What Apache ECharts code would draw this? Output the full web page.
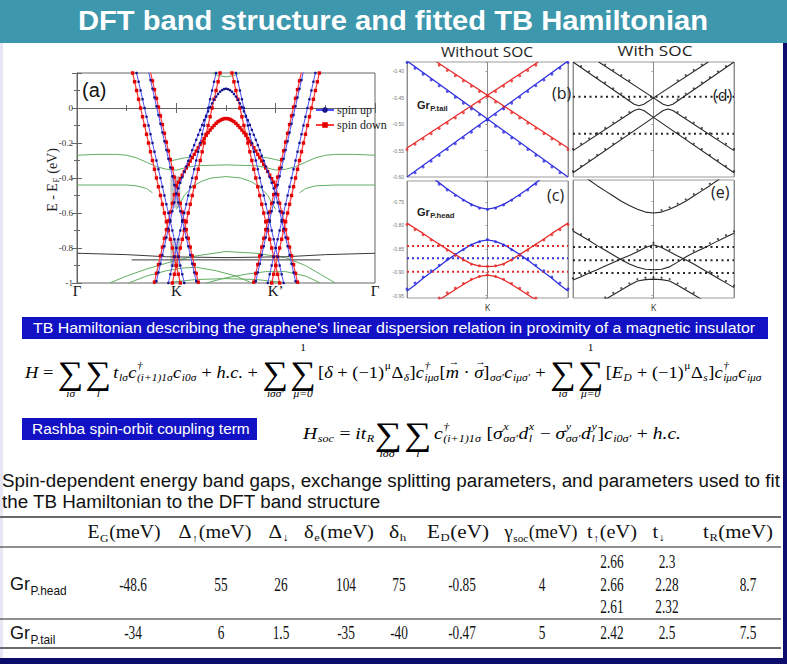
<!DOCTYPE html>
<html>
<head>
<meta charset="utf-8">
<title>DFT band structure and fitted TB Hamiltonian</title>
<script src="https://cdn.jsdelivr.net/npm/echarts@6/dist/echarts.min.js"></script>
<style>
html,body{margin:0;padding:0;background:#ffffff;}
#slide{width:787px;height:664px;}
</style>
</head>
<body>
<div id="slide"></div>
<script>
// ---------------- data ----------------
// (a) path Γ–K–K'–Γ and energy ticks
const pathTicks = [0, 1, 2, 3];
const pathLabels = ['Γ', 'K', 'K’', 'Γ'];
const energyTicksA = [-1, -0.8, -0.6, -0.4, -0.2, 0];
const energyLabelsA = ['-1', '-0.8', '-0.6', '-0.4', '-0.2', '0'];

// (a) DFT energies (eV) sampled every 0.02 along the path, per band segment
const steepH = [0.20,0.15,0.10,0.05,0.00,-0.05,-0.10,-0.15,-0.20,-0.25,-0.30,-0.35,-0.40,-0.45,-0.50,-0.55,-0.60,-0.65,-0.70,-0.75,-0.80,-0.85,-0.90,-0.95,-1.00];
const steepTUp = [0.21,0.16,0.11,0.06,0.01,-0.04,-0.09,-0.14,-0.19,-0.24,-0.29,-0.34,-0.39,-0.44,-0.49,-0.54,-0.59,-0.64,-0.69,-0.74,-0.79,-0.84,-0.89,-0.94,-0.99];
const steepTDown = [0.205,0.155,0.105,0.055,0.005,-0.045,-0.095,-0.145,-0.195,-0.245,-0.295,-0.345,-0.395,-0.445,-0.495,-0.545,-0.595,-0.645,-0.695,-0.745,-0.795,-0.845,-0.895,-0.945,-0.995];
const archUp = [-0.99,-0.94,-0.89,-0.84,-0.79,-0.74,-0.69,-0.64,-0.59,-0.54,
  -0.490,-0.459,-0.427,-0.396,-0.364,-0.333,-0.302,-0.272,-0.241,-0.212,-0.182,-0.153,-0.125,-0.097,-0.070,-0.044,-0.019,0.005,0.027,0.047,0.065,0.080,0.093,0.102,0.108,
  0.110,0.108,0.102,0.093,0.080,0.065,0.047,0.027,0.005,-0.019,-0.044,-0.070,-0.097,-0.125,-0.153,-0.182,-0.212,-0.241,-0.272,-0.302,-0.333,-0.364,-0.396,-0.427,-0.459,-0.490,
  -0.54,-0.59,-0.64,-0.69,-0.74,-0.79,-0.84,-0.89,-0.94,-0.99];
const archDown = [-0.995,-0.945,-0.895,-0.845,-0.795,-0.745,-0.695,-0.645,-0.595,-0.545,-0.495,
  -0.445,-0.424,-0.404,-0.384,-0.363,-0.343,-0.323,-0.303,-0.284,-0.265,-0.246,-0.227,-0.209,-0.191,-0.174,-0.157,-0.141,-0.126,-0.112,-0.100,-0.088,-0.078,-0.071,-0.065,-0.061,
  -0.060,-0.061,-0.065,-0.071,-0.078,-0.088,-0.100,-0.112,-0.126,-0.141,-0.157,-0.174,-0.191,-0.209,-0.227,-0.246,-0.265,-0.284,-0.303,-0.323,-0.343,-0.363,-0.384,-0.404,-0.424,-0.445,
  -0.495,-0.545,-0.595,-0.645,-0.695,-0.745,-0.795,-0.845,-0.895,-0.945,-0.995];
// segment = [first k, k step, energies]
const aSpinUp = [
  [0.60, 0.02, steepH], [1.40, -0.02, steepH], [2.40, -0.02, steepH], [1.60, 0.02, steepH],
  [0.72, 0.02, steepTUp], [2.28, -0.02, steepTUp], [0.80, 0.02, archUp]
];
const aSpinDown = [
  [0.56, 0.02, steepH], [1.44, -0.02, steepH], [2.44, -0.02, steepH], [1.56, 0.02, steepH],
  [0.74, 0.02, steepTDown], [2.26, -0.02, steepTDown], [0.78, 0.02, archDown]
];
// (a) substrate bands, [k, E-EF (eV)]
const aGreen = [
  [[0,-0.27],[0.2,-0.265],[0.4,-0.265],[0.5,-0.27],[0.6,-0.285],[0.7,-0.31],[0.8,-0.335],[0.9,-0.35],[1.0,-0.355],[1.1,-0.34],[1.2,-0.33],[1.5,-0.325],[1.8,-0.33],[1.9,-0.34],[2.0,-0.355],[2.1,-0.35],[2.2,-0.335],[2.3,-0.31],[2.4,-0.285],[2.5,-0.27],[2.6,-0.265],[2.8,-0.265],[3.0,-0.27]],
  [[0.92,-0.305],[1.0,-0.295],[1.08,-0.285],[1.16,-0.28]],
  [[2.08,-0.305],[2.0,-0.295],[1.92,-0.285],[1.84,-0.28]],
  [[0,-0.44],[0.3,-0.44],[0.5,-0.44],[0.6,-0.445],[0.7,-0.46],[0.76,-0.485]],
  [[2.24,-0.485],[2.3,-0.46],[2.4,-0.445],[2.6,-0.44],[3,-0.44]],
  [[1.0,-0.58],[1.08,-0.50],[1.16,-0.45],[1.25,-0.42],[1.35,-0.40],[1.5,-0.392],[1.65,-0.40],[1.75,-0.42],[1.84,-0.45],[1.92,-0.50],[2.0,-0.58]],
  [[1.36,0.2],[1.42,0.185],[1.5,0.178],[1.58,0.185],[1.64,0.2]],
  [[0.33,-1.0],[0.5,-0.96],[0.7,-0.92],[0.85,-0.895],[1.0,-0.87],[1.2,-0.845],[1.5,-0.82],[1.8,-0.83],[2.1,-0.855],[2.3,-0.9],[2.45,-0.95],[2.6,-1.0]],
  [[0.52,-1.0],[0.7,-0.96],[0.9,-0.93],[1.05,-0.915],[1.2,-0.91],[1.4,-0.93],[1.6,-0.96],[1.76,-1.0]],
  [[1.3,-1.0],[1.5,-0.97],[1.7,-0.95],[1.9,-0.935],[2.1,-0.935],[2.3,-0.96],[2.45,-1.0]],
  [[0.95,-0.995],[1.2,-0.98],[1.5,-0.975],[1.8,-0.98],[2.05,-0.995]]
];
const aBlack = [
  [[0,-0.83],[0.5,-0.838],[0.9,-0.85],[1.5,-0.855],[2.1,-0.85],[2.5,-0.838],[3,-0.83]],
  [[0.55,-0.868],[2.45,-0.868]]
];
// gap regions marked at K: [k0, E0, k1, E1]
const aGapBoxes = [[0.94,-0.39,1.04,-0.57],[0.94,-0.75,1.04,-0.91]];

// zoomed panels (b)-(e): k measured from K
const kGrid = [-1.0,-0.9,-0.8,-0.7,-0.6,-0.5,-0.4,-0.3,-0.2,-0.1,0,0.1,0.2,0.3,0.4,0.5,0.6,0.7,0.8,0.9,1.0];

// (b) Gr P.tail without SOC: TB lines and DFT points
const bRedLines = [[[-0.63,-0.382],[1,-0.545]], [[-1,-0.545],[0.63,-0.382]]];
const bBlueLines = [[[-1,-0.380],[1,-0.600]], [[-1,-0.600],[1,-0.380]]];
const bRedDots1 = [null,null,null,null,-0.388,-0.398,-0.408,-0.418,-0.428,-0.438,-0.447,-0.458,-0.468,-0.478,-0.488,-0.498,-0.508,-0.518,-0.528,-0.538,-0.548];
const bRedDots2 = [-0.548,-0.538,-0.528,-0.518,-0.508,-0.498,-0.488,-0.478,-0.468,-0.458,-0.447,-0.438,-0.428,-0.418,-0.408,-0.398,-0.388,null,null,null,null];
const bBlueDots1 = [-0.383,-0.394,-0.405,-0.416,-0.427,-0.438,-0.449,-0.460,-0.471,-0.482,-0.492,-0.504,-0.515,-0.526,-0.537,-0.548,-0.559,-0.570,-0.581,-0.592,null];
const bBlueDots2 = [null,-0.592,-0.581,-0.570,-0.559,-0.548,-0.537,-0.526,-0.515,-0.504,-0.492,-0.482,-0.471,-0.460,-0.449,-0.438,-0.427,-0.416,-0.405,-0.394,-0.383];

// (c) Gr P.head without SOC
const cBlueUp = [null,null,null,-0.696,-0.709,-0.722,-0.734,-0.745,-0.755,-0.762,-0.765,-0.762,-0.755,-0.745,-0.734,-0.722,-0.709,-0.696,null,null,null];
const cBlueDown = [-0.940,-0.927,-0.913,-0.900,-0.887,-0.874,-0.862,-0.851,-0.841,-0.834,-0.831,-0.834,-0.841,-0.851,-0.862,-0.874,-0.887,-0.900,-0.913,-0.927,-0.940];
const cRedUp = [-0.795,-0.806,-0.817,-0.829,-0.840,-0.851,-0.862,-0.873,-0.882,-0.887,-0.888,-0.887,-0.882,-0.873,-0.862,-0.851,-0.840,-0.829,-0.817,-0.806,-0.795];
const cRedDown = [null,null,null,-0.970,-0.959,-0.948,-0.937,-0.926,-0.916,-0.909,-0.906,-0.909,-0.916,-0.926,-0.937,-0.948,-0.959,-0.970,null,null,null];
const cBlueUpDots = [null,null,null,null,-0.712,-0.724,-0.736,-0.746,-0.756,-0.763,-0.766,-0.763,-0.756,-0.746,-0.736,-0.724,-0.712,null,null,null,null];
const cBlueDownDots = [-0.936,-0.923,-0.910,-0.897,-0.885,-0.873,-0.862,-0.852,-0.842,-0.835,-0.830,-0.835,-0.842,-0.852,-0.862,-0.873,-0.885,-0.897,-0.910,-0.923,-0.936];
const cRedUpDots = [-0.798,-0.809,-0.820,-0.831,-0.842,-0.853,-0.864,-0.874,-0.883,-0.886,-0.887,-0.886,-0.883,-0.874,-0.864,-0.853,-0.842,-0.831,-0.820,-0.809,-0.798];
const cRedDownDots = [null,null,null,null,-0.955,-0.944,-0.934,-0.924,-0.915,-0.909,-0.906,-0.909,-0.915,-0.924,-0.934,-0.944,-0.955,null,null,null,null];
const cFlatRed = [-0.844, -0.899];
const cFlatBlue = [-0.870];

// (d) Gr P.tail with SOC
const dCurves = [
  [[-0.68,-0.382],[0,-0.450],[0.12,-0.462],[0.18,-0.465],[0.24,-0.462],[1,-0.382]],
  [[-1,-0.382],[-0.24,-0.462],[-0.18,-0.465],[-0.12,-0.462],[0,-0.450],[0.68,-0.382]],
  [[-1,-0.550],[-0.24,-0.474],[-0.18,-0.471],[-0.12,-0.474],[0,-0.487],[1,-0.592]],
  [[-1,-0.592],[0,-0.487],[0.12,-0.474],[0.18,-0.471],[0.24,-0.474],[1,-0.550]]
];
const dDotsU1 = [null,null,null,null,-0.387,-0.397,-0.407,-0.417,null,null,null,null,null,-0.477,-0.487,-0.497,-0.507,-0.517,-0.527,-0.537,-0.547];
const dDotsU2 = [-0.547,-0.537,-0.527,-0.517,-0.507,-0.497,-0.487,-0.477,null,null,null,null,null,-0.417,-0.407,-0.397,-0.387,null,null,null,null];
const dDotsL1 = [null,-0.390,-0.400,-0.411,-0.421,-0.432,-0.442,-0.453,null,null,null,null,null,-0.516,-0.526,-0.537,-0.547,-0.558,-0.568,-0.579,-0.589];
const dDotsL2 = [-0.589,-0.579,-0.568,-0.558,-0.547,-0.537,-0.526,-0.516,null,null,null,null,null,-0.453,-0.442,-0.432,-0.421,-0.411,-0.400,-0.390,null];
const dFlat = [-0.448, -0.518];

// (e) Gr P.head with SOC
const eUp = [null,-0.694,-0.705,-0.717,-0.728,-0.739,-0.750,-0.759,-0.767,-0.773,-0.775,-0.773,-0.767,-0.759,-0.750,-0.739,-0.728,-0.717,-0.705,-0.694,null];
const eMid1 = [-0.917,-0.910,-0.902,-0.895,-0.887,-0.880,-0.872,-0.865,-0.857,-0.848,-0.842,-0.848,-0.857,-0.866,-0.874,-0.883,-0.893,-0.903,-0.913,-0.923,-0.933];
const eMid2 = [-0.813,-0.823,-0.833,-0.844,-0.854,-0.864,-0.874,-0.883,-0.890,-0.894,-0.895,-0.894,-0.889,-0.879,-0.868,-0.859,-0.851,-0.843,-0.834,-0.826,-0.818];
const eLow = [null,null,null,-0.968,-0.958,-0.948,-0.938,-0.928,-0.919,-0.916,-0.915,-0.916,-0.919,-0.928,-0.938,-0.948,-0.958,-0.968,null,null,null];
const eUpDots = [null,null,null,null,null,null,null,null,null,null,null,-0.769,-0.763,-0.755,-0.746,-0.735,-0.724,-0.713,-0.702,null,null];
const eMid1Dots = [-0.913,-0.906,-0.898,null,null,null,null,null,-0.853,-0.845,-0.838,-0.845,-0.853,null,null,null,null,-0.899,-0.909,-0.919,-0.929];
const eMid2Dots = [-0.810,-0.820,-0.830,null,null,null,null,null,null,null,null,null,null,null,null,-0.855,-0.847,-0.839,-0.830,-0.822,-0.814];
const eLowDots = [null,null,null,null,-0.954,-0.944,-0.934,-0.924,-0.915,-0.912,-0.911,-0.912,-0.915,-0.924,-0.934,-0.944,null,null,null,null,null];
const eFlat = [-0.847, -0.875, -0.902];

// table of fitted parameters
const colSymbols = ['E', 'Δ', 'Δ', 'δ', 'δ', 'E', 'γ', 't', 't', 't'];
const colSubs = ['G', '↑', '↓', 'e', 'h', 'D', 'soc', '↑', '↓', 'R'];
const colUnits = ['(meV)', '(meV)', '', '(meV)', '', '(eV)', '(meV)', '(eV)', '', '(meV)'];
const headValues = ['-48.6', '55', '26', '104', '75', '-0.85', '4', null, null, '8.7'];
const headTUp = ['2.66', '2.66', '2.61'];
const headTDown = ['2.3', '2.28', '2.32'];
const tailValues = ['-34', '6', '1.5', '-35', '-40', '-0.47', '5', '2.42', '2.5', '7.5'];

// ---------------- helpers ----------------
const SANS = '"Liberation Sans", Arial, sans-serif';
const SERIF = '"Liberation Serif", "Times New Roman", serif';
const CAL = '"Open Sans", "Noto Sans", sans-serif';
const mctx = document.createElement('canvas').getContext('2d');
function measure(str, font) { mctx.font = font; return mctx.measureText(str).width; }

function textEl(str, x, y, font, o) {
  o = o || {};
  const al = o.align || 'left';
  const el = { type: 'text', x: x, y: y, silent: true, z: o.z || 30,
    style: { text: str, font: font, fill: o.color || '#000', align: al, verticalAlign: 'middle',
             textAlign: al, textVerticalAlign: 'middle' } };
  if (o.width) el.scaleX = o.width / measure(str, font);
  else if (o.sx) el.scaleX = o.sx;
  return el;
}

// lays out a run of tokens with sub/superscripts, accents and big sums
function mathGroup(tokens, x, y, opt) {
  const base = opt.size, fam = opt.family, color = opt.color || '#000';
  const weight = opt.bold ? 'bold ' : '';
  const subScale = opt.subScale || 0.62;
  const children = [];
  let cx = 0;
  const font = (sz, it) => (it ? 'italic ' : '') + weight + sz.toFixed(2) + 'px ' + fam;
  const put = (s, px, py, f, al) => children.push({ type: 'text', x: px, y: py, silent: true,
    style: { text: s, font: f, fill: color, align: al || 'left', verticalAlign: 'middle', textAlign: al || 'left', textVerticalAlign: 'middle' } });
  tokens.forEach(tk => {
    if (tk.sum) {
      const sf = (base * 1.95).toFixed(1) + 'px ' + SERIF;
      const sw = measure('∑', sf);
      const lf = font(base * 0.62, true);
      const lw = Math.max(sw, tk.below ? measure(tk.below, lf) : 0, tk.above ? measure(tk.above, lf) : 0);
      const mid = cx + lw / 2;
      put('∑', mid, base * 0.05, sf, 'center');
      if (tk.below) put(tk.below, mid, base * 1.22, lf, 'center');
      if (tk.above) put(tk.above, mid, -base * 1.45, font(base * 0.62, false), 'center');
      cx += lw + base * 0.12;
      return;
    }
    const it = !!tk.it;
    const sit = tk.sit === undefined ? it : tk.sit;
    const mf = font(base, it);
    let w = 0;
    if (tk.t) { put(tk.t, cx, 0, mf); w = measure(tk.t, mf); }
    if (tk.over) put('→', cx + w / 2 + base * 0.08, -base * 0.62, (base * 0.55).toFixed(1) + 'px ' + SERIF, 'center');
    const sf = font(base * subScale, sit);
    let sw = 0;
    const sx0 = cx + w + (tk.t && (tk.sub || tk.sup) ? 0.5 : 0);
    if (tk.sup) { put(tk.sup, sx0, -base * 0.38, sf); sw = Math.max(sw, measure(tk.sup, sf)); }
    if (tk.sub) { put(tk.sub, sx0, base * (opt.subDrop || 0.32), sf); sw = Math.max(sw, measure(tk.sub, sf)); }
    cx = sx0 + sw + (sw ? 0.5 : 0);
  });
  const sx = opt.width ? opt.width / cx : (opt.sx || 1);
  const gx = opt.align === 'center' ? x - cx * sx / 2 : x;
  const g = { type: 'group', x: gx, y: y, scaleX: sx, children: children, z: opt.z || 30 };
  if (opt.rotation) { g.rotation = opt.rotation; g.x = x; g.y = y + cx / 2; }
  return g;
}

const GA = { x: 0, y: 0 }, GB = { x: 2, y: 2 }, GC = { x: 3, y: 3 }, GD = { x: 4, y: 4 }, GE = { x: 5, y: 5 };
const onGrid = vals => kGrid.map((k, i) => [k, vals[i]]).filter(p => p[1] !== null);
const onPath = seg => seg[2].map((e, i) => [Math.round((seg[0] + seg[1] * i) * 1000) / 1000, e]);
const series = [];
function addLine(g, pts, color, o) {
  o = o || {};
  series.push({ type: 'line', name: o.name, xAxisIndex: g.x, yAxisIndex: g.y, data: pts,
    showSymbol: !!o.symbol, symbol: o.symbol || 'none', symbolSize: o.symbolSize || 3,
    lineStyle: { color: color, width: o.width || 1, type: o.dash || 'solid' },
    itemStyle: { color: o.symbolColor || color }, silent: true, animation: false, z: o.z || 3, clip: true });
}
function addDots(g, pts, color, size, symbol) {
  series.push({ type: 'scatter', xAxisIndex: g.x, yAxisIndex: g.y, data: pts, symbol: symbol || 'circle',
    symbolSize: size, itemStyle: { color: color }, silent: true, animation: false, z: 4, clip: true });
}

// ---------------- series ----------------
const BLUE = '#2f2fe0', RED = '#e62a2a', GREEN = '#62ad62', DARK = '#262626';
aGreen.forEach(b => addLine(GA, b, GREEN, { width: 1 }));
aBlack.forEach(b => addLine(GA, b, '#3a3a3a', { width: 1 }));
aSpinUp.forEach(s => addLine(GA, onPath(s), '#5050ff', { name: 'spin up', symbol: 'circle', symbolSize: 2.6, symbolColor: '#16168a', width: 1, z: 5 }));
aSpinDown.forEach(s => addLine(GA, onPath(s), '#ff3c3c', { name: 'spin down', symbol: 'rect', symbolSize: 3.4, symbolColor: '#e40000', width: 1.2, z: 4 }));
series.push({ type: 'line', xAxisIndex: 0, yAxisIndex: 0, data: [], silent: true, z: 1,
  markArea: { silent: true, itemStyle: { color: 'rgba(150,150,150,0.55)' },
    data: aGapBoxes.map(b => [{ coord: [b[0], b[1]] }, { coord: [b[2], b[3]] }]) } });

bRedLines.forEach(l => addLine(GB, l, RED, { width: 1.3 }));
bBlueLines.forEach(l => addLine(GB, l, BLUE, { width: 1.3 }));
[bRedDots1, bRedDots2].forEach(d => addDots(GB, onGrid(d), RED, 3));
[bBlueDots1, bBlueDots2].forEach(d => addDots(GB, onGrid(d), BLUE, 3));

addLine(GC, onGrid(cBlueUp), BLUE, { width: 1.3 });
addLine(GC, onGrid(cBlueDown), BLUE, { width: 1.3 });
addLine(GC, onGrid(cRedUp), RED, { width: 1.3 });
addLine(GC, onGrid(cRedDown), RED, { width: 1.3 });
[cBlueUpDots, cBlueDownDots].forEach(d => addDots(GC, onGrid(d), BLUE, 3));
[cRedUpDots, cRedDownDots].forEach(d => addDots(GC, onGrid(d), RED, 3));
cFlatRed.forEach(e => addLine(GC, [[-1, e], [1, e]], RED, { width: 2, dash: [2, 3] }));
cFlatBlue.forEach(e => addLine(GC, [[-1, e], [1, e]], BLUE, { width: 2, dash: [2, 3] }));

dCurves.forEach(c => addLine(GD, c, DARK, { width: 1.1 }));
[dDotsU1, dDotsU2, dDotsL1, dDotsL2].forEach(d => addDots(GD, onGrid(d), DARK, 2.2));
dFlat.forEach(e => addLine(GD, [[-1, e], [1, e]], DARK, { width: 2, dash: [2, 3.5] }));

[eUp, eMid1, eMid2, eLow].forEach(c => addLine(GE, onGrid(c), DARK, { width: 1.1 }));
[eUpDots, eMid1Dots, eMid2Dots, eLowDots].forEach(d => addDots(GE, onGrid(d), DARK, 2.2));
eFlat.forEach(e => addLine(GE, [[-1, e], [1, e]], DARK, { width: 2, dash: [2, 3.5] }));

// ---------------- axes ----------------
const noSplit = { show: false };
const tick = (len, inside, col) => ({ show: true, inside: inside, length: len, lineStyle: { color: col || '#555', width: 1 } });
const kLabel = v => (Math.abs(v) < 1e-9 ? 'K' : '');
const zoomYLabel = v => { const r = Math.round(v * 20) / 20; return Math.abs(r - v) < 1e-6 ? r.toFixed(2) : ''; };
const xAxes = [
  { gridIndex: 0, type: 'value', min: 0, max: 3, interval: 1, axisLine: { lineStyle: { color: '#666' } },
    axisTick: tick(5, true, '#666'), minorTick: { show: true, splitNumber: 2, length: 3, lineStyle: { color: '#666' } },
    axisLabel: { formatter: v => pathLabels[pathTicks.indexOf(Math.round(v))] || '', fontFamily: SERIF, fontSize: 15, color: '#111', margin: 0 },
    splitLine: noSplit, minorSplitLine: noSplit },
  { gridIndex: 0, type: 'value', position: 'top', min: 0, max: 3, interval: 1, axisLine: { lineStyle: { color: '#666' } },
    axisTick: tick(5, true, '#666'), minorTick: { show: true, splitNumber: 2, length: 3, lineStyle: { color: '#666' } },
    axisLabel: { show: false }, splitLine: noSplit }
];
[1, 2, 3, 4].forEach(gi => xAxes.push({ gridIndex: gi, type: 'value', min: -1, max: 1, interval: 1,
  axisLine: { show: false }, axisTick: { show: false },
  axisLabel: { show: gi === 2 || gi === 4, formatter: kLabel, fontFamily: CAL, fontSize: 9, color: '#333', margin: 5 },
  splitLine: { show: true, lineStyle: { color: '#8c8c8c', width: 1 } } }));

const yAxes = [
  { gridIndex: 0, type: 'value', min: -1, max: 0.2, interval: 0.2, axisLine: { lineStyle: { color: '#666' } },
    axisTick: tick(5, true, '#666'), minorTick: { show: true, splitNumber: 2, length: 3, lineStyle: { color: '#666' } },
    axisLabel: { formatter: v => { const i = energyTicksA.findIndex(t => Math.abs(t - v) < 1e-6); return i < 0 ? '' : energyLabelsA[i]; },
      fontFamily: SERIF, fontSize: 9, color: '#333', margin: 4 },
    splitLine: noSplit },
  { gridIndex: 0, type: 'value', position: 'right', min: -1, max: 0.2, interval: 0.2, axisLine: { lineStyle: { color: '#666' } },
    axisTick: tick(5, true, '#666'), minorTick: { show: true, splitNumber: 2, length: 3, lineStyle: { color: '#666' } },
    axisLabel: { show: false }, splitLine: noSplit }
];
const yRangeTop = { min: -0.60, max: -0.382 }, yRangeBottom = { min: -0.955, max: -0.705 };
[[1, yRangeTop, true], [2, yRangeBottom, true], [3, yRangeTop, false], [4, yRangeBottom, false]].forEach(([gi, r, lab]) =>
  yAxes.push({ gridIndex: gi, type: 'value', min: r.min, max: r.max, splitNumber: 5,
    axisLine: { show: false }, axisTick: { show: true, length: 2, lineStyle: { color: '#999' } },
    axisLabel: { show: lab, formatter: zoomYLabel, fontFamily: SANS, fontSize: 5, color: '#777', margin: 3 },
    splitLine: noSplit }));

// ---------------- slide decoration and text ----------------
const gfx = [];
gfx.push({ type: 'rect', shape: { x: 0, y: 0, width: 787, height: 43 }, style: { fill: '#3d97ad' }, z: 1, silent: true });
gfx.push({ type: 'rect', shape: { x: 0, y: 43, width: 3, height: 621 }, style: { fill: '#e6e6f4' }, z: 1, silent: true });
gfx.push({ type: 'rect', shape: { x: 783, y: 43, width: 4, height: 621 }, style: { fill: '#0c0c6c' }, z: 1, silent: true });
gfx.push({ type: 'rect', shape: { x: 0, y: 658, width: 787, height: 6 }, style: { fill: '#0c0c6c' }, z: 1, silent: true });
gfx.push(textEl('DFT band structure and fitted TB Hamiltonian', 393, 21, 'bold 27px ' + SANS, { align: 'center', color: '#ffffff', width: 630 }));

// panel captions
gfx.push(textEl('(a)', 82, 90, '20px ' + SANS, { color: '#111' }));
gfx.push(mathGroup([{ t: 'E - E', sub: 'F' }, { t: ' (eV)' }], 52, 180, { size: 14, family: SERIF, color: '#222', rotation: Math.PI / 2 }));
gfx.push(textEl('Without SOC', 487, 51, '14px ' + CAL, { align: 'center', color: '#222', width: 92 }));
gfx.push(textEl('With SOC', 655, 51, '14px ' + CAL, { align: 'center', color: '#222', width: 75 }));
gfx.push(textEl('(b)', 552, 93, '16px ' + CAL, { color: '#222' }));
gfx.push(textEl('(c)', 547, 195, '16px ' + CAL, { color: '#222' }));
gfx.push(textEl('(d)', 713, 95, '16px ' + CAL, { color: '#222' }));
gfx.push(textEl('(e)', 711, 192, '16px ' + CAL, { color: '#222' }));
gfx.push(mathGroup([{ t: 'Gr', sub: 'P.tail' }], 417, 105, { size: 11, family: SANS, bold: true, color: '#222', subScale: 0.7 }));
gfx.push(mathGroup([{ t: 'Gr', sub: 'P.head' }], 417, 212, { size: 11, family: SANS, bold: true, color: '#222', subScale: 0.7 }));

// Hamiltonian banner and equation
gfx.push({ type: 'rect', shape: { x: 22, y: 317, width: 746, height: 22 }, style: { fill: '#1212c4' }, z: 2, silent: true });
gfx.push(textEl('TB Hamiltonian describing the graphene\'s linear dispersion relation in proximity of a magnetic insulator', 394, 328, '15px ' + SANS, { align: 'center', color: '#ffffff', width: 723 }));
const eqH = [
  { t: 'H', it: true }, { t: ' = ' },
  { sum: true, below: 'iσ' }, { sum: true, below: 'l' },
  { t: 't', it: true, sub: 'lσ' },
  { t: 'c', it: true, sup: '†', sub: '(i+1)1σ' },
  { t: 'c', it: true, sub: 'i0σ' },
  { t: ' + ' }, { t: 'h.c.', it: true }, { t: ' + ' },
  { sum: true, below: 'iσσ′' }, { sum: true, above: '1', below: 'μ=0' },
  { t: '[' }, { t: 'δ', it: true }, { t: ' + (−1)', sup: 'μ' }, { t: 'Δ', sub: 'δ', sit: true }, { t: ']' },
  { t: 'c', it: true, sup: '†', sub: 'iμσ' },
  { t: '[' }, { t: 'm', it: true, over: true }, { t: ' · ' }, { t: 'σ', it: true, over: true }, { t: ']', sub: 'σσ′', sit: true },
  { t: 'c', it: true, sub: 'iμσ′' },
  { t: ' + ' },
  { sum: true, below: 'iσ' }, { sum: true, above: '1', below: 'μ=0' },
  { t: '[' }, { t: 'E', it: true, sub: 'D' }, { t: ' + (−1)', sup: 'μ' }, { t: 'Δ', sub: 's', sit: true }, { t: ']' },
  { t: 'c', it: true, sup: '†', sub: 'iμσ' }, { t: 'c', it: true, sub: 'iμσ' }
];
gfx.push(mathGroup(eqH, 25, 372, { size: 17, family: SERIF, width: 737 }));

gfx.push({ type: 'rect', shape: { x: 22, y: 418, width: 235, height: 22 }, style: { fill: '#1212c4' }, z: 2, silent: true });
gfx.push(textEl('Rashba spin-orbit coupling term', 32, 429, '15px ' + SANS, { color: '#ffffff', width: 218 }));
const eqSoc = [
  { t: 'H', it: true, sub: 'soc' }, { t: ' = ' }, { t: 'it', it: true, sub: 'R' },
  { sum: true, below: 'iσσ′' }, { sum: true, below: 'l' },
  { t: 'c', it: true, sup: '†', sub: '(i+1)1σ' },
  { t: ' [' }, { t: 'σ', it: true, sup: 'x', sub: 'σσ′' }, { t: 'd', it: true, sup: 'x', sub: 'l' },
  { t: ' − ' }, { t: 'σ', it: true, sup: 'y', sub: 'σσ′' }, { t: 'd', it: true, sup: 'y', sub: 'l' }, { t: ']' },
  { t: 'c', it: true, sub: 'i0σ′' }, { t: ' + ' }, { t: 'h.c.', it: true }
];
gfx.push(mathGroup(eqSoc, 303, 433, { size: 17, family: SERIF, width: 378 }));

// caption of the table
gfx.push(textEl('Spin-dependent energy band gaps, exchange splitting parameters, and parameters used to fit', 2, 481, '18px ' + SANS, { color: '#111', width: 778 }));
const capScale = 778 / measure('Spin-dependent energy band gaps, exchange splitting parameters, and parameters used to fit', '18px ' + SANS);
gfx.push(textEl('the TB Hamiltonian to the DFT band structure', 2, 502, '18px ' + SANS, { color: '#111', sx: capScale }));

// table rules
[[517, 2], [547, 1.5], [619, 1.5], [648, 2]].forEach(([y, w]) =>
  gfx.push({ type: 'line', shape: { x1: 0, y1: y, x2: 781, y2: y }, style: { stroke: '#6a6a6a', lineWidth: w }, z: 5, silent: true }));

const colCenters = [124, 215, 279, 339, 398, 458, 541, 612, 659, 738];
const headWidths = [73, 73, 21, 70, 18, 62, 73, 50, 13, 70];
const valCenters = [133, 221, 281, 346, 399, 462, 542, 612, 667, 748];
colSymbols.forEach((s, i) => {
  const toks = [{ t: s, sub: colSubs[i] }];
  if (colUnits[i]) toks.push({ t: colUnits[i] });
  gfx.push(mathGroup(toks, colCenters[i], 532, { size: 18, family: SERIF, width: headWidths[i], align: 'center', subScale: 0.6, color: '#111' }));
});
const VAL_FONT = '18px ' + SERIF, VSX = 0.74;
headValues.forEach((v, i) => { if (v !== null) gfx.push(textEl(v, valCenters[i], 585, VAL_FONT, { align: 'center', sx: VSX, color: '#111' })); });
[562, 585, 607].forEach((y, r) => {
  gfx.push(textEl(headTUp[r], valCenters[7], y, VAL_FONT, { align: 'center', sx: VSX, color: '#111' }));
  gfx.push(textEl(headTDown[r], valCenters[8], y, VAL_FONT, { align: 'center', sx: VSX, color: '#111' }));
});
tailValues.forEach((v, i) => gfx.push(textEl(v, valCenters[i], 633, VAL_FONT, { align: 'center', sx: VSX, color: '#111' })));
gfx.push(mathGroup([{ t: 'Gr', sub: 'P.head' }], 10, 584, { size: 18, family: SANS, subScale: 0.66, subDrop: 0.38, color: '#111' }));
gfx.push(mathGroup([{ t: 'Gr', sub: 'P.tail' }], 10, 633, { size: 18, family: SANS, subScale: 0.66, subDrop: 0.38, color: '#111' }));

// ---------------- chart ----------------
const chart = echarts.init(document.getElementById('slide'), null, { renderer: 'svg', width: 787, height: 664 });
chart.setOption({
  backgroundColor: '#ffffff',
  animation: false,
  grid: [
    { left: 77, top: 73, width: 298, height: 210, show: true, borderColor: '#666', borderWidth: 1 },
    { left: 407, top: 62, width: 161, height: 115, show: true, borderColor: '#9a9a9a', borderWidth: 1 },
    { left: 407, top: 181, width: 161, height: 117, show: true, borderColor: '#9a9a9a', borderWidth: 1 },
    { left: 573, top: 62, width: 161, height: 115, show: true, borderColor: '#9a9a9a', borderWidth: 1 },
    { left: 573, top: 180, width: 161, height: 118, show: true, borderColor: '#9a9a9a', borderWidth: 1 }
  ],
  legend: { data: ['spin up', 'spin down'], left: 315, top: 104, orient: 'vertical', itemGap: 3, itemWidth: 18, itemHeight: 7,
    selectedMode: false, textStyle: { fontFamily: SERIF, fontSize: 12, color: '#222', padding: [0, 0, 0, -2] }, padding: 0 },
  xAxis: xAxes,
  yAxis: yAxes,
  series: series,
  graphic: { elements: gfx }
});
</script>
</body>
</html>
